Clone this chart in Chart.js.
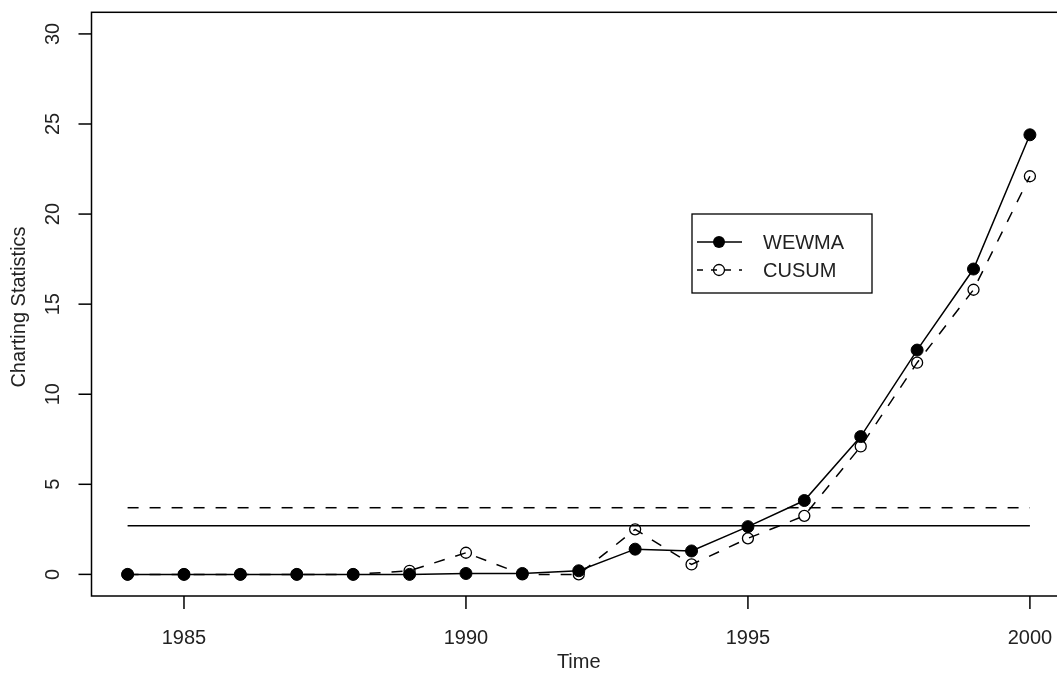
<!DOCTYPE html>
<html>
<head>
<meta charset="utf-8">
<script src="https://cdn.jsdelivr.net/npm/chart.js@4"></script>
<style>
  html, body { margin: 0; padding: 0; background: #fff; overflow: hidden; }
  #wrap { width: 1057px; height: 673px; overflow: hidden; }
  canvas { display: block; }
</style>
</head>
<body>
<div id="wrap"><canvas id="chart" width="1080" height="673"></canvas></div>
<script>
// datos
const years = [1984, 1985, 1986, 1987, 1988, 1989, 1990, 1991, 1992, 1993, 1994, 1995, 1996, 1997, 1998, 1999, 2000];
const wewma = [0, 0, 0, 0, 0, 0, 0.05, 0.05, 0.2, 1.4, 1.3, 2.65, 4.1, 7.65, 12.45, 16.95, 24.4];
const cusum = [0, 0, 0, 0, 0, 0.2, 1.2, 0, 0, 2.5, 0.55, 2.0, 3.25, 7.1, 11.75, 15.8, 22.1];
const limiteWewma = 2.7;
const limiteCusum = 3.7;
const xTicks = [1985, 1990, 1995, 2000];
const yTicks = [0, 5, 10, 15, 20, 25, 30];
const seriesNames = ['WEWMA', 'CUSUM'];

const FONT = '"Liberation Sans", Arial, Helvetica, sans-serif';
const DASH = [11, 11];

function toPoints(ys) {
    return years.map((x, i) => ({ x: x, y: ys[i] }));
}

function hLine(y) {
    return [{ x: years[0], y: y }, { x: years[years.length - 1], y: y }];
}

// ejes al estilo R, dibujados con las escalas de Chart.js
const ejesR = {
    id: 'ejesR',
    afterDraw(chart) {
        const ctx = chart.ctx;
        const a = chart.chartArea;
        const xs = chart.scales.x;
        const ys = chart.scales.y;
        const tick = 13;

        ctx.save();
        ctx.strokeStyle = '#000';
        ctx.fillStyle = '#222';
        ctx.lineWidth = 1.5;

        // caja
        ctx.strokeRect(a.left, a.top, a.right - a.left, a.bottom - a.top);

        // eje x
        ctx.font = '20px ' + FONT;
        ctx.textAlign = 'center';
        ctx.textBaseline = 'middle';
        xTicks.forEach(v => {
            const px = xs.getPixelForValue(v);
            ctx.beginPath();
            ctx.moveTo(px, a.bottom);
            ctx.lineTo(px, a.bottom + tick);
            ctx.stroke();
            ctx.fillText(String(v), px, 638);
        });

        // eje y
        yTicks.forEach(v => {
            const py = ys.getPixelForValue(v);
            ctx.beginPath();
            ctx.moveTo(a.left, py);
            ctx.lineTo(a.left - tick, py);
            ctx.stroke();
            ctx.save();
            ctx.translate(53, py);
            ctx.rotate(-Math.PI / 2);
            ctx.fillText(String(v), 0, 0);
            ctx.restore();
        });

        // titulos
        ctx.fillText('Time', (a.left + a.right) / 2, 662);
        ctx.save();
        ctx.translate(19, 307);
        ctx.rotate(-Math.PI / 2);
        ctx.fillText('Charting Statistics', 0, 0);
        ctx.restore();

        // leyenda
        const lx = 692, ly = 214, lw = 180, lh = 79;
        ctx.lineWidth = 1.3;
        ctx.strokeRect(lx, ly, lw, lh);
        const rows = [242, 270];
        ctx.textAlign = 'left';
        rows.forEach((ry, i) => {
            ctx.beginPath();
            ctx.strokeStyle = '#000';
            ctx.lineWidth = 1.5;
            if (i === 1) ctx.setLineDash([6, 8]);
            ctx.moveTo(697, ry);
            ctx.lineTo(742, ry);
            ctx.stroke();
            ctx.setLineDash([]);
            ctx.beginPath();
            ctx.arc(719, ry, i === 0 ? 6 : 5.5, 0, Math.PI * 2);
            if (i === 0) {
                ctx.fillStyle = '#000';
                ctx.fill();
            } else {
                ctx.lineWidth = 1.3;
                ctx.stroke();
            }
            ctx.fillStyle = '#222';
            ctx.fillText(seriesNames[i], 763, ry + 1);
        });
        ctx.restore();
    }
};

new Chart(document.getElementById('chart'), {
    type: 'line',
    data: {
        datasets: [
            {
                label: seriesNames[0],
                data: toPoints(wewma),
                borderColor: '#000',
                borderWidth: 1.5,
                pointRadius: 6,
                pointBackgroundColor: '#000',
                pointBorderColor: '#000',
                pointBorderWidth: 1,
                tension: 0
            },
            {
                label: seriesNames[1],
                data: toPoints(cusum),
                borderColor: '#000',
                borderWidth: 1.5,
                borderDash: DASH,
                pointRadius: 5.5,
                pointBackgroundColor: 'rgba(0,0,0,0)',
                pointBorderColor: '#000',
                pointBorderWidth: 1.3,
                tension: 0
            },
            {
                label: 'limite WEWMA',
                data: hLine(limiteWewma),
                borderColor: '#000',
                borderWidth: 1.5,
                pointRadius: 0
            },
            {
                label: 'limite CUSUM',
                data: hLine(limiteCusum),
                borderColor: '#000',
                borderWidth: 1.5,
                borderDash: DASH,
                pointRadius: 0
            }
        ]
    },
    options: {
        responsive: false,
        animation: false,
        layout: {
            padding: { left: 91.5, top: 12.3, right: 14, bottom: 77 }
        },
        plugins: {
            legend: { display: false },
            tooltip: { enabled: false }
        },
        scales: {
            x: {
                type: 'linear',
                display: false,
                min: 1983.36,
                max: 2000.64
            },
            y: {
                type: 'linear',
                display: false,
                min: -1.2,
                max: 31.2
            }
        }
    },
    plugins: [ejesR]
});
</script>
</body>
</html>
